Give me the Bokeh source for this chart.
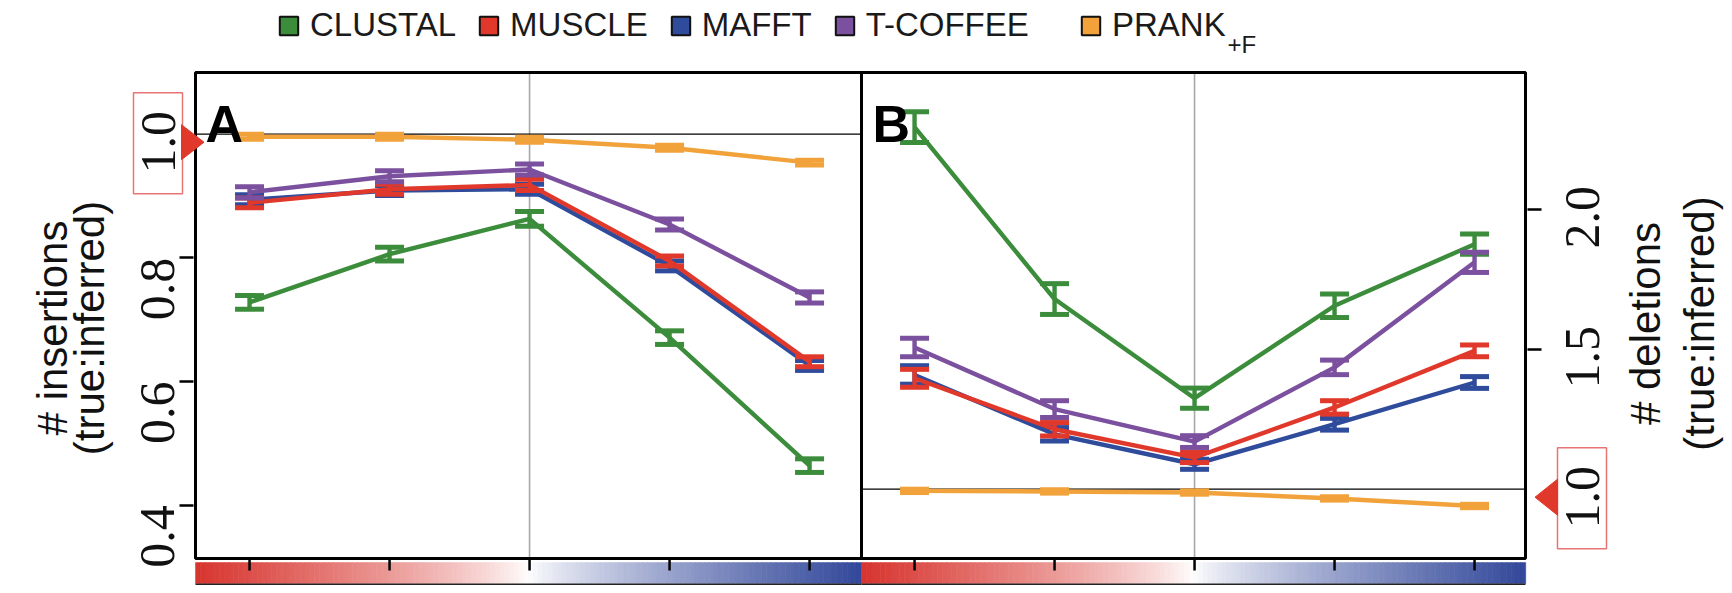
import math
from bokeh.plotting import figure
from bokeh.models import (Range1d, LinearAxis, FixedTicker, Label, Legend, LegendItem, GridBox,
                          Column)
from bokeh.core.properties import value
from bokeh.embed import file_html
from bokeh.resources import INLINE

# ---------------- data ----------------
levels = [1, 2, 3, 4, 5]
methods = ["CLUSTAL", "MUSCLE", "MAFFT", "T-COFFEE", "PRANK"]
colors = ["#3b8c3b", "#e0392b", "#2f4b9b", "#7b509e", "#f2a23a"]

# panel A: # insertions (true:inferred)
clustal_ins = [0.728, 0.806, 0.863, 0.671, 0.464]
muscle_ins = [0.889, 0.911, 0.918, 0.795, 0.632]
mafft_ins = [0.894, 0.909, 0.911, 0.787, 0.626]
tcoffee_ins = [0.906, 0.932, 0.943, 0.854, 0.736]
prank_ins = [0.996, 0.996, 0.991, 0.978, 0.954]
clustal_ins_err = [0.011, 0.011, 0.012, 0.011, 0.011]
muscle_ins_err = [0.008, 0.008, 0.009, 0.008, 0.008]
mafft_ins_err = [0.008, 0.008, 0.008, 0.008, 0.008]
tcoffee_ins_err = [0.009, 0.009, 0.009, 0.009, 0.009]
prank_ins_err = [0.004, 0.004, 0.004, 0.004, 0.004]

# panel B: # deletions (true:inferred)
clustal_del = [2.293, 1.679, 1.325, 1.655, 1.875]
muscle_del = [1.396, 1.214, 1.113, 1.292, 1.494]
mafft_del = [1.408, 1.196, 1.089, 1.232, 1.381]
tcoffee_del = [1.506, 1.286, 1.170, 1.435, 1.810]
prank_del = [0.994, 0.992, 0.988, 0.967, 0.940]
clustal_del_err = [0.055, 0.055, 0.036, 0.042, 0.036]
muscle_del_err = [0.032, 0.024, 0.018, 0.024, 0.021]
mafft_del_err = [0.033, 0.024, 0.018, 0.021, 0.021]
tcoffee_del_err = [0.033, 0.030, 0.021, 0.026, 0.036]
prank_del_err = [0.006, 0.006, 0.006, 0.006, 0.006]

ticks_ins = [0.4, 0.6, 0.8]
ticks_del = [1.5, 2.0]
ref_value = 1.0
title_ins = ["# insertions", "(true:inferred)"]
title_del = ["# deletions", "(true:inferred)"]

# ---------------- geometry (page pixels) ----------------
W, H = 1716, 585
PAGE = 8
FL, FR, FT, FB = 201, 1535, 78, 593      # plotting frame
AX0, AX1 = 203, 869                       # panel A box
BX0, BX1 = 869, 1533                      # panel B box
BT, BB = 80, 566                          # panel boxes top / bottom
CB_T, CB_B = 570, 591                     # colour bar

XLIM_A = (0.614, 5.371)
XLIM_B = (0.621, 5.364)
YLIM_A = (0.3138, 1.0998)
YLIM_B = (0.7525, 2.488)


def xmap(lim, p0, p1):
    s = (lim[1] - lim[0]) / (p1 - p0)
    return lambda px: lim[0] + (px - p0) * s


def ymap(lim):
    s = (lim[1] - lim[0]) / (BB - BT)
    return lambda py: lim[1] - (py - BT) * s


def ypage(lim, v):
    return BT + (lim[1] - v) * (BB - BT) / (lim[1] - lim[0])


ax = xmap(XLIM_A, AX0, AX1)
bx = xmap(XLIM_B, BX0, BX1)
ay = ymap(YLIM_A)
by = ymap(YLIM_B)

xa = Range1d(ax(FL), ax(FR))
xb = Range1d(bx(FL), bx(FR))
ya = Range1d(ay(FB), ay(FT))
yb = Range1d(by(FB), by(FT))

p = figure(width=W, height=H, x_range=xa, y_range=ya, output_backend="svg",
           toolbar_location=None, x_axis_location=None, y_axis_location=None,
           min_border_left=FL - PAGE, min_border_right=W - (FR - PAGE),
           min_border_top=FT - PAGE, min_border_bottom=0)
p.extra_x_ranges = {"xb": xb}
p.extra_y_ranges = {"yb": yb}
p.outline_line_color = None
p.background_fill_color = "white"
p.border_fill_color = "white"
p.grid.visible = False

RED_END = (215, 52, 46)
BLUE_END = (51, 72, 154)


def cb_color(t):
    f = min(1.0, abs(t)) ** 0.8
    end = RED_END if t < 0 else BLUE_END
    r = [round(255 + (c - 255) * f) for c in end]
    return "#%02x%02x%02x" % tuple(r)


LW = 4.4


def draw_panel(kw, xlim, ylim, pym, series):
    # colour bar under the panel
    n = 140
    step = (xlim[1] - xlim[0]) / n
    lefts = [xlim[0] + i * step for i in range(n)]
    rights = [l + step * 1.05 for l in lefts]
    half = (xlim[1] - xlim[0]) / 2
    mid = (xlim[0] + xlim[1]) / 2
    cols = [cb_color((l + step / 2 - mid) / half) for l in lefts]
    p.quad(left=lefts, right=rights, bottom=pym(CB_B), top=pym(CB_T),
           fill_color=cols, line_color=cols, line_width=0.5, **kw)
    p.segment(x0=[xlim[0]], x1=[xlim[1]], y0=[pym(592)], y1=[pym(592)],
              line_color="#222222", line_width=2, **kw)
    p.segment(x0=levels, x1=levels, y0=[pym(BB)] * 5, y1=[pym(578)] * 5,
              line_color="black", line_width=2.5, **kw)
    # reference lines
    p.segment(x0=[3], x1=[3], y0=[ylim[0]], y1=[ylim[1]],
              line_color="#a8a8a8", line_width=1.6, **kw)
    p.segment(x0=[xlim[0]], x1=[xlim[1]], y0=[ref_value], y1=[ref_value],
              line_color="black", line_width=1.3, **kw)
    # series with error bars
    for ys, es, col in series:
        lo = [y - e for y, e in zip(ys, es)]
        hi = [y + e for y, e in zip(ys, es)]
        p.line(levels, ys, line_color=col, line_width=LW, **kw)
        p.segment(x0=levels, x1=levels, y0=lo, y1=hi, line_color=col, line_width=LW, **kw)
        p.scatter(levels, lo, marker="dash", size=29, line_color=col, line_width=5, **kw)
        p.scatter(levels, hi, marker="dash", size=29, line_color=col, line_width=5, **kw)
    # panel box
    p.quad(left=[xlim[0]], right=[xlim[1]], bottom=[ylim[0]], top=[ylim[1]],
           fill_color=None, line_color="black", line_width=3, **kw)


order = [0, 2, 1, 3, 4]   # drawing order: CLUSTAL, MAFFT, MUSCLE, T-COFFEE, PRANK
ins = [clustal_ins, muscle_ins, mafft_ins, tcoffee_ins, prank_ins]
ins_e = [clustal_ins_err, muscle_ins_err, mafft_ins_err, tcoffee_ins_err, prank_ins_err]
dels = [clustal_del, muscle_del, mafft_del, tcoffee_del, prank_del]
dels_e = [clustal_del_err, muscle_del_err, mafft_del_err, tcoffee_del_err, prank_del_err]

draw_panel({}, XLIM_A, YLIM_A, ay, [(ins[i], ins_e[i], colors[i]) for i in order])
draw_panel(dict(x_range_name="xb", y_range_name="yb"), XLIM_B, YLIM_B, by,
           [(dels[i], dels_e[i], colors[i]) for i in order])

# panel letters
p.add_layout(Label(x=ax(213), y=ay(131), text="A", text_font="Liberation Sans",
                   text_font_style="bold", text_font_size="52px", text_color="black",
                   text_baseline="alphabetic"))
p.add_layout(Label(x=bx(880), y=by(131), x_range_name="xb", y_range_name="yb",
                   text="B", text_font="Liberation Sans", text_color="black",
                   text_font_style="bold", text_font_size="52px", text_baseline="alphabetic"))

# ---------------- axes ----------------
TICK_FONT = "Liberation Sans Narrow"
TITLE_FONT = "Liberation Sans"

la = LinearAxis(ticker=FixedTicker(ticks=ticks_ins), axis_label="\n".join(title_ins))
ra = LinearAxis(y_range_name="yb", ticker=FixedTicker(ticks=ticks_del))
for a in (la, ra):
    a.axis_line_color = None
    a.major_tick_in = 0
    a.major_tick_out = 14
    a.major_tick_line_width = 2.5
    a.major_tick_line_color = "black"
    a.minor_tick_line_color = None
    a.major_label_text_font = TICK_FONT
    a.major_label_text_font_size = "50px"
    a.major_label_text_color = "#111111"
la.major_label_standoff = 22
la.major_label_orientation = math.pi / 2
la.major_label_overrides = {t: "%.1f" % t for t in ticks_ins}
la.axis_label_text_font = TITLE_FONT
la.axis_label_text_font_size = "42px"
la.axis_label_text_font_style = "normal"
la.axis_label_text_color = "#111111"
la.axis_label_text_line_height = 0.78
la.axis_label_standoff = 9
ra.major_label_overrides = {t: "" for t in ticks_del}
p.add_layout(la, "left")
p.add_layout(ra, "right")

# ---------------- overlay (its canvas px = page px) ----------------
WQ, HQ = W + PAGE, H + PAGE
q = figure(width=WQ, height=HQ, x_range=Range1d(0, WQ), y_range=Range1d(HQ, 0),
           output_backend="svg", toolbar_location=None, x_axis_location=None,
           y_axis_location=None, min_border_left=0, min_border_right=0,
           min_border_top=0, min_border_bottom=0)
q.outline_line_color = None
q.background_fill_alpha = 0
q.border_fill_alpha = 0
q.grid.visible = False

pyA = ypage(YLIM_A, ref_value)
pyB = ypage(YLIM_B, ref_value)

# boxed reference labels "1.0" with red pointers
q.rect(x=[157.5, 1581.5], y=[pyA + 1, pyB + 1], width=49, height=101,
       fill_color="white", line_color="#e87575", line_width=1.5)
q.text(x=[157.5, 1581.5], y=[pyA, pyB], text=["%.1f" % ref_value] * 2, angle=math.pi / 2,
       text_align="center", text_baseline="middle", text_font=value(TICK_FONT),
       text_font_size="50px", text_color="#111111")
q.patches(xs=[[181, 181, AX0 + 0.5], [BX1 + 24, BX1 + 24, BX1 + 1.5]],
          ys=[[pyA - 17.5, pyA + 17.5, pyA], [pyB - 18, pyB + 18, pyB]],
          fill_color="#e0392b", line_color="#e0392b", line_width=1)

# right-hand tick labels and title
q.text(x=[1582] * len(ticks_del), y=[ypage(YLIM_B, t) for t in ticks_del],
       text=["%.1f" % t for t in ticks_del], angle=math.pi / 2,
       text_align="center", text_baseline="middle", text_font=value(TICK_FONT),
       text_font_size="50px", text_color="#111111")
q.text(x=[1645, 1699], y=[(BT + BB) / 2] * 2, text=title_del, angle=math.pi / 2,
       text_align="center", text_baseline="middle", text_font=value(TITLE_FONT),
       text_font_size="42px", text_color="#111111")

# legend (two groups so the item spacing follows the original)
nan = float("nan")
items = []
for m, c in zip(methods, colors):
    r = q.quad(left=[nan], right=[nan], top=[nan], bottom=[nan], fill_color=c,
               line_color="#111111", line_width=2)
    items.append(LegendItem(label=m, renderers=[r]))
leg_style = dict(orientation="horizontal", glyph_width=23, glyph_height=23,
                 label_standoff=10, padding=0, margin=0, border_line_color=None,
                 background_fill_alpha=0, label_text_font=TITLE_FONT,
                 label_text_font_size="33px", label_text_color="#1a1a1a")
q.add_layout(Legend(items=items[:4], location=(277, HQ - 44), spacing=21, **leg_style), "center")
q.add_layout(Legend(items=items[4:], location=(1079, HQ - 44), spacing=21, **leg_style), "center")
q.add_layout(Label(x=1227, y=44, text="+F", text_font=TITLE_FONT,
                   text_font_size="24px", text_color="#1a1a1a", text_baseline="alphabetic"))

grid = GridBox(children=[(p, 0, 0), (Column(children=[q]), 0, 0)])
open("out.html", "w").write(file_html(grid, INLINE))
